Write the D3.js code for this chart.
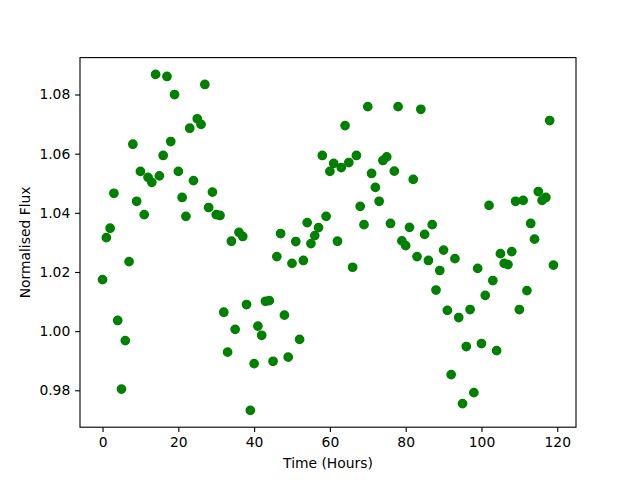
<!DOCTYPE html>
<html>
<head>
<meta charset="utf-8">
<script src="https://cdn.jsdelivr.net/npm/d3@7"></script>
<style>
    html, body { margin: 0; padding: 0; background: #fff; }
    svg { display: block; font-family: "DejaVu Sans", sans-serif; }
</style>
</head>
<body>
<svg id="chart" width="640" height="480"></svg>
<script>
// hours since start of observation
const hours = d3.range(0, 120);

// normalised flux, one reading per hour
const flux = [
    1.0174, 1.0316, 1.0348, 1.0466, 1.0036, 0.9804, 0.9968, 1.0235, 1.0632, 1.0439,
    1.0540, 1.0394, 1.0520, 1.0503, 1.0868, 1.0525, 1.0594, 1.0861, 1.0641, 1.0800,
    1.0540, 1.0452, 1.0388, 1.0686, 1.0509, 1.0718, 1.0699, 1.0834, 1.0418, 1.0470,
    1.0394, 1.0391, 1.0064, 0.9929, 1.0304, 1.0006, 1.0334, 1.0320, 1.0090, 0.9732,
    0.9890, 1.0017, 0.9986, 1.0101, 1.0103, 0.9898, 1.0252, 1.0330, 1.0054, 0.9912,
    1.0229, 1.0303, 0.9972, 1.0239, 1.0367, 1.0296, 1.0323, 1.0350, 1.0594, 1.0388,
    1.0540, 1.0567, 1.0304, 1.0553, 1.0695, 1.0570, 1.0216, 1.0594, 1.0422, 1.0360,
    1.0759, 1.0533, 1.0486, 1.0439, 1.0577, 1.0589, 1.0364, 1.0541, 1.0759, 1.0305,
    1.0289, 1.0351, 1.0513, 1.0252, 1.0750, 1.0327, 1.0239, 1.0360, 1.0139, 1.0205,
    1.0274, 1.0070, 0.9853, 1.0245, 1.0046, 0.9755, 0.9948, 1.0073, 0.9792, 1.0212,
    0.9958, 1.0121, 1.0425, 1.0171, 0.9934, 1.0262, 1.0229, 1.0225, 1.0269, 1.0439,
    1.0073, 1.0442, 1.0137, 1.0364, 1.0311, 1.0472, 1.0442, 1.0452, 1.0712, 1.0223
];

const xTicks = [0, 20, 40, 60, 80, 100, 120];
const yTicks = [0.98, 1.00, 1.02, 1.04, 1.06, 1.08];

const xLabel = "Time (Hours)";
const yLabel = "Normalised Flux";

// matplotlib-like layout: 640x480 figure, default subplot margins
const margin = { left: 80, right: 64, top: 57.6, bottom: 52.8 };
const width = 640 - margin.left - margin.right;
const height = 480 - margin.top - margin.bottom;
const fontSize = 13.89;
const tickLen = 4.86;
const tickPad = 4.86;

function padded(extent, frac) {
    const span = extent[1] - extent[0];
    return [extent[0] - span * frac, extent[1] + span * frac];
}

const x = d3.scaleLinear()
    .domain(padded(d3.extent(hours), 0.05))
    .range([0, width])
    ;

const y = d3.scaleLinear()
    .domain(padded(d3.extent(flux), 0.05))
    .range([height, 0])
    ;

const svg = d3.select("#chart");

const g = svg.append("g")
    .attr("transform", `translate(${margin.left},${margin.top})`)
    ;

// points
g.append("g")
    .selectAll("circle")
    .data(hours.map((h, i) => [h, flux[i]]))
    .join("circle")
    .attr("cx", d => x(d[0]))
    .attr("cy", d => y(d[1]))
    .attr("r", 4.17)
    .attr("fill", "#008000")
    .attr("stroke", "#008000")
    .attr("stroke-width", 1.39)
    ;

// axes
const xAxis = d3.axisBottom(x)
    .tickValues(xTicks)
    .tickFormat(d3.format("d"))
    .tickSize(tickLen)
    .tickPadding(tickPad)
    ;

const yAxis = d3.axisLeft(y)
    .tickValues(yTicks)
    .tickFormat(d3.format(".2f"))
    .tickSize(tickLen)
    .tickPadding(tickPad)
    ;

const gx = g.append("g")
    .attr("transform", `translate(0,${height})`)
    .call(xAxis)
    ;

const gy = g.append("g")
    .call(yAxis)
    ;

[gx, gy].forEach(ax => {
    ax.select(".domain").remove();
    ax.selectAll(".tick line")
        .attr("stroke", "#000")
        .attr("stroke-width", 1.11)
        ;
    ax.selectAll(".tick text")
        .attr("fill", "#000")
        .style("font-size", `${fontSize}px`)
        .style("font-family", "DejaVu Sans, sans-serif")
        ;
});

// frame
g.append("rect")
    .attr("width", width)
    .attr("height", height)
    .attr("fill", "none")
    .attr("stroke", "#000")
    .attr("stroke-width", 1.11)
    ;

// labels
g.append("text")
    .attr("x", width / 2)
    .attr("y", height + 41)
    .attr("text-anchor", "middle")
    .style("font-size", `${fontSize}px`)
    .text(xLabel)
    ;

g.append("text")
    .attr("transform", `translate(${30 - margin.left},${height / 2}) rotate(-90)`)
    .attr("text-anchor", "middle")
    .style("font-size", `${fontSize}px`)
    .text(yLabel)
    ;
</script>
</body>
</html>
